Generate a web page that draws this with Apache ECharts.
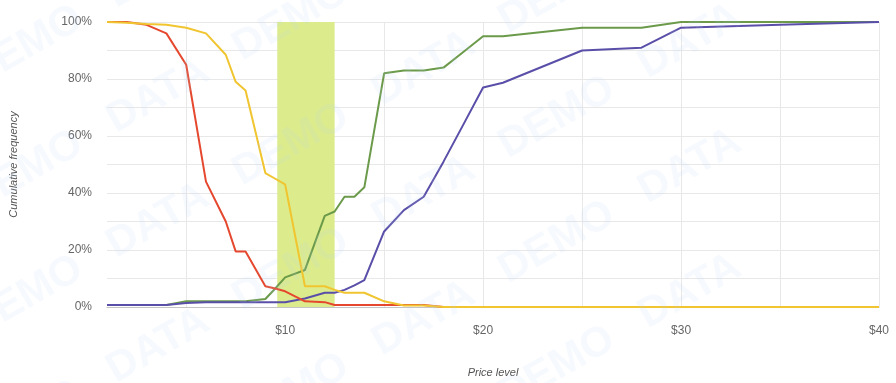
<!DOCTYPE html>
<html>
<head>
<meta charset="utf-8">
<script src="https://cdn.jsdelivr.net/npm/echarts@6/dist/echarts.min.js"></script>
<style>
  html, body { margin: 0; padding: 0; background: #fff; }
  #main { width: 896px; height: 383px; }
</style>
</head>
<body>
<div id="main"></div>
<script>
// price points (x) shared by all four curves
const prices = [1, 2, 3, 4, 5, 6, 7, 7.5, 8, 9, 9.5, 10, 11, 12, 12.5, 13, 13.5, 14, 15, 16, 17, 18, 19, 20, 21, 25, 28, 30, 35, 40];

// cumulative frequency in %
const redShare    = [100, 100, 99, 96, 85, 44, 30, 19.5, 19.5, 7.3, 6.5, 5.5, 2, 1.7, 0.7, 0.7, 0.7, 0.7, 0.7, 0.7, 0.7, 0, 0, 0, 0, 0, 0, 0, 0, 0];
const yellowShare = [100, 99.7, 99.3, 99, 98, 96, 88.5, 79, 76, 47, 45, 43, 7.3, 7.3, 6, 5, 5, 5, 2, 0.5, 0.5, 0, 0, 0, 0, 0, 0, 0, 0, 0];
const greenShare  = [0.7, 0.7, 0.7, 0.7, 2, 2, 2, 2, 2, 2.8, 6.5, 10.4, 13, 32, 33.5, 38.7, 38.7, 42, 82, 83, 83, 84, 89.5, 95, 95, 98, 98, 100, 100, 100];
const purpleShare = [0.7, 0.7, 0.7, 0.7, 1.4, 1.7, 1.7, 1.7, 1.7, 1.7, 1.7, 1.7, 3, 5, 5, 6, 7.6, 9.4, 26.5, 34, 38.7, 51, 64, 77, 78.7, 90, 91, 98, 99, 100];

// highlighted price band
const bandRange = [9.6, 12.5];

// axis ticks
const xLabelTicks = [10, 20, 30, 40];
const xGridTicks = [5, 10, 15, 20, 25, 30, 35, 40];

function pairs(ys) {
  return prices.map((p, i) => [p, ys[i]]);
}

var chartDom = document.getElementById('main');
var myChart = echarts.init(chartDom);
var option;

// faint "DEMO DATA" watermark rows
var marks = [];
[60, 185, 310, 435, 560, 685].forEach(function (y) {
  marks.push({
    type: 'text',
    x: -40,
    y: y,
    rotation: 0.52,
    silent: true,
    z: 100,
    style: {
      text: 'DEMO   DATA   DEMO   DATA   DEMO   DATA',
      font: 'bold 42px "Liberation Sans", sans-serif',
      fill: 'rgba(185, 205, 240, 0.13)'
    }
  });
});

const lineStyleOf = (c) => ({ color: c, width: 2 });

option = {
  animation: false,
  textStyle: { fontFamily: '"Liberation Sans", Arial, sans-serif' },
  graphic: marks,
  grid: { left: 107, right: 17, top: 22, bottom: 74 },
  xAxis: {
    type: 'value',
    min: 1,
    max: 40,
    name: 'Price level',
    nameLocation: 'middle',
    nameGap: 60,
    nameTextStyle: { fontStyle: 'italic', fontSize: 11, color: '#555' },
    axisLine: { show: true, lineStyle: { color: '#c4c4c4' } },
    axisTick: { show: false, customValues: xGridTicks },
    splitLine: { show: true, lineStyle: { color: '#e8e8e8' } },
    axisLabel: {
      customValues: xLabelTicks,
      color: '#666',
      fontSize: 12,
      margin: 18,
      formatter: (v) => '$' + v
    }
  },
  yAxis: {
    type: 'value',
    min: 0,
    max: 100,
    interval: 10,
    name: 'Cumulative frequency',
    nameLocation: 'middle',
    nameGap: 88,
    nameTextStyle: { fontStyle: 'italic', fontSize: 11, color: '#555' },
    axisLine: { show: false },
    axisTick: { show: false },
    splitLine: { lineStyle: { color: '#e8e8e8' } },
    axisLabel: {
      color: '#666',
      fontSize: 12,
      margin: 15,
      formatter: (v) => (v % 20 === 0 ? v + '%' : '')
    }
  },
  series: [
    {
      name: 'green',
      type: 'line',
      symbol: 'none',
      lineStyle: lineStyleOf('#6b9a4a'),
      data: pairs(greenShare),
      markArea: {
        silent: true,
        itemStyle: { color: '#dcec8c' },
        data: [[{ xAxis: bandRange[0] }, { xAxis: bandRange[1] }]]
      }
    },
    {
      name: 'purple',
      type: 'line',
      symbol: 'none',
      lineStyle: lineStyleOf('#5a4fa8'),
      data: pairs(purpleShare)
    },
    {
      name: 'red',
      type: 'line',
      symbol: 'none',
      lineStyle: lineStyleOf('#e5482e'),
      data: pairs(redShare)
    },
    {
      name: 'yellow',
      type: 'line',
      symbol: 'none',
      lineStyle: lineStyleOf('#f0c530'),
      data: pairs(yellowShare)
    }
  ]
};

option && myChart.setOption(option);
</script>
</body>
</html>
